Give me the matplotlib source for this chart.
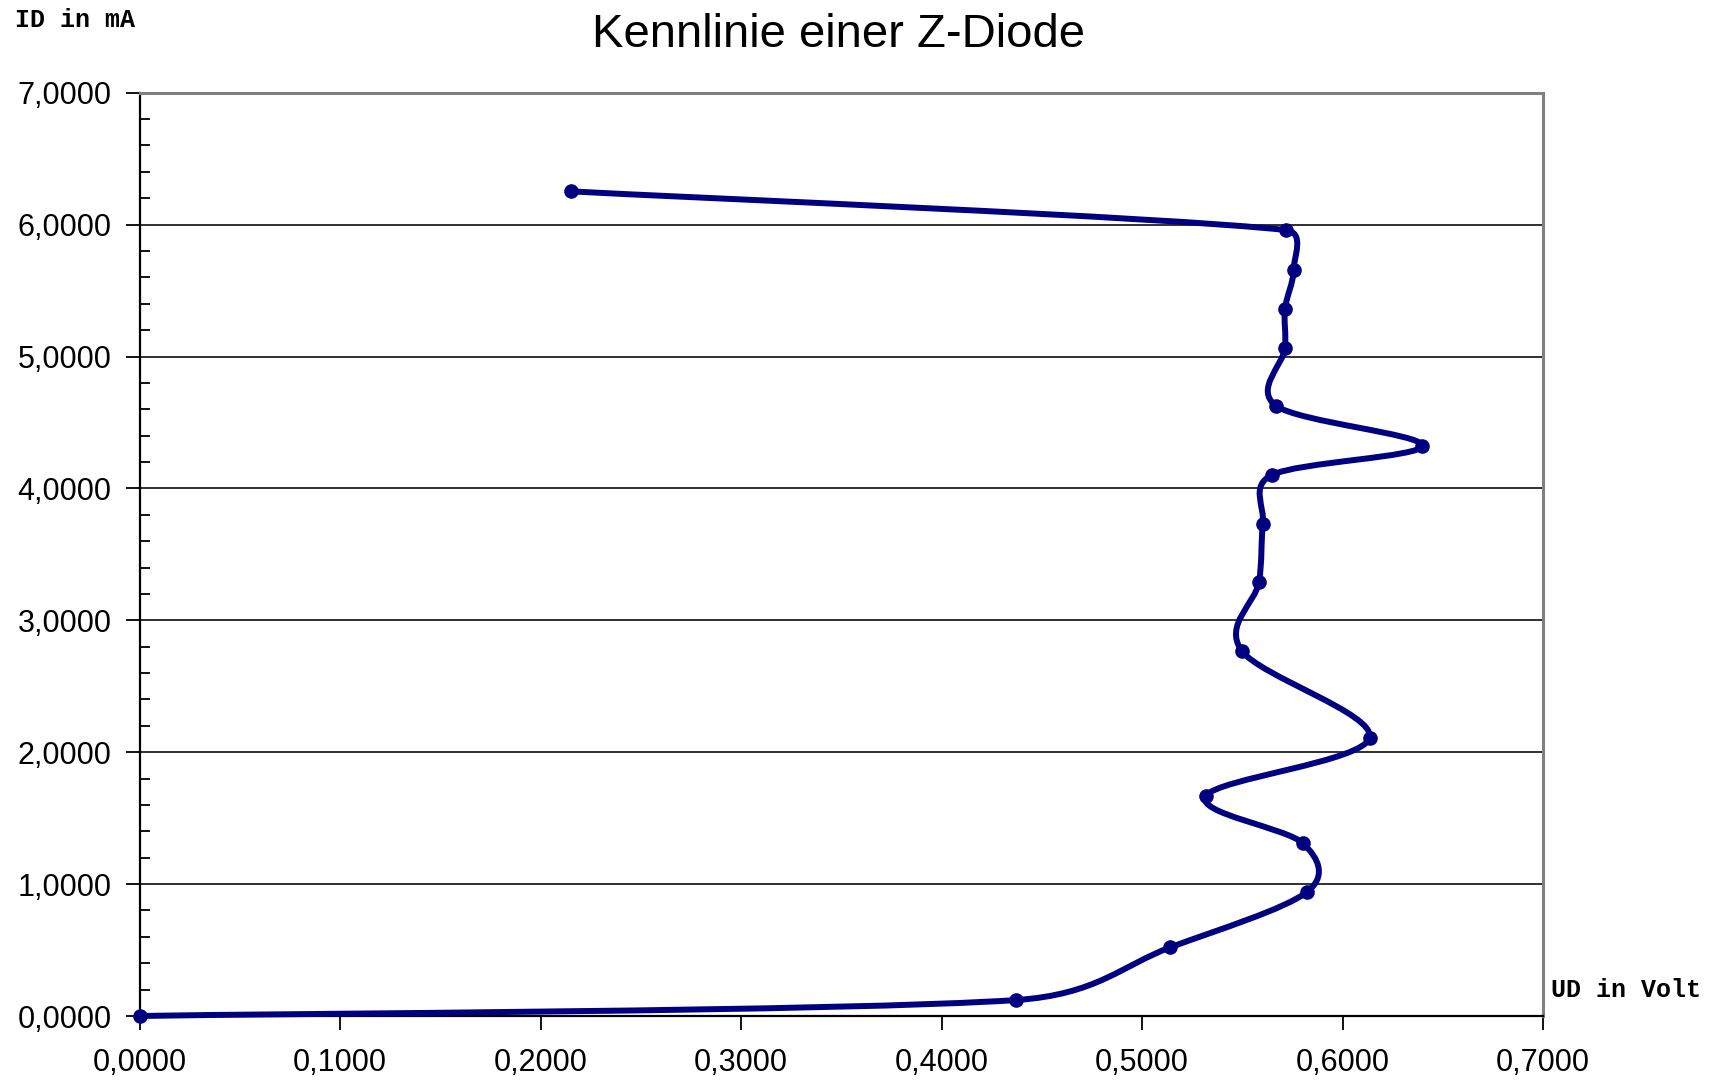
import numpy as np
import matplotlib
matplotlib.use("Agg")
import matplotlib.pyplot as plt
from matplotlib.path import Path
from matplotlib.patches import PathPatch
from matplotlib.ticker import FixedLocator, MultipleLocator, FixedFormatter

# Data (UD in Volt, ID in mA)
ud_volt = [0.0000, 0.4372, 0.5142, 0.5824, 0.5803, 0.5318, 0.6135, 0.5497,
           0.5583, 0.5603, 0.5648, 0.6398, 0.5670, 0.5713, 0.5713, 0.5756,
           0.5716, 0.2152]
id_ma = [0.0000, 0.121, 0.521, 0.942, 1.309, 1.668, 2.110, 2.770,
         3.288, 3.728, 4.102, 4.324, 4.625, 5.062, 5.360, 5.656,
         5.959, 6.252]

x_ticks = [0.0, 0.1, 0.2, 0.3, 0.4, 0.5, 0.6, 0.7]
y_ticks = [0.0, 1.0, 2.0, 3.0, 4.0, 5.0, 6.0, 7.0]
x_labels = ["0,0000", "0,1000", "0,2000", "0,3000", "0,4000", "0,5000", "0,6000", "0,7000"]
y_labels = ["0,0000", "1,0000", "2,0000", "3,0000", "4,0000", "5,0000", "6,0000", "7,0000"]

title = "Kennlinie einer Z-Diode"
ylabel = "ID in mA"
xlabel = "UD in Volt"

navy = "#000080"
W, H, DPI = 1725, 1082, 100
fig = plt.figure(figsize=(W / DPI, H / DPI), dpi=DPI)
plt.rcParams['font.family'] = ['Liberation Sans', 'DejaVu Sans']

ax = fig.add_axes([139.5 / W, 1 - 1016 / H, (1543 - 139.5) / W, (1016 - 92.7) / H])
ax.set_xlim(0, 0.7)
ax.set_ylim(0, 7)

# grid lines
for yv in y_ticks[1:-1]:
    ax.axhline(yv, color="#202020", lw=1.3, zorder=1)

for s in ["top", "right"]:
    ax.spines[s].set_color("#808080")
    ax.spines[s].set_linewidth(2.2)
for s in ["left", "bottom"]:
    ax.spines[s].set_color("black")
    ax.spines[s].set_linewidth(1.6)

ax.xaxis.set_major_locator(FixedLocator(x_ticks))
ax.xaxis.set_major_formatter(FixedFormatter(x_labels))
ax.yaxis.set_major_locator(FixedLocator(y_ticks))
ax.yaxis.set_major_formatter(FixedFormatter(y_labels))
ax.yaxis.set_minor_locator(MultipleLocator(0.2))
ax.tick_params(axis="both", which="major", direction="out", length=10, width=1.3,
               labelsize=22, color="black")
ax.tick_params(axis="y", which="major", pad=10)
ax.tick_params(axis="x", which="major", pad=13)
ax.tick_params(axis="y", which="minor", direction="in", length=7, width=1.3, color="black")

# smoothed line (spreadsheet-style Bezier smoothing in display space)
fig.canvas.draw()
pts = ax.transData.transform(np.column_stack([ud_volt, id_ma]))
n = len(pts)
offs = []
for i in range(n):
    a = pts[max(i - 1, 0)]
    b = pts[min(i + 1, n - 1)]
    offs.append((b - a) / 6.0)


def clamp(v, lim):
    m = np.linalg.norm(v)
    return v if m <= lim or m == 0 else v * (lim / m)


verts = [pts[0]]
codes = [Path.MOVETO]
for i in range(n - 1):
    p1, p2 = pts[i], pts[i + 1]
    L = np.linalg.norm(p2 - p1)
    c1 = p1 + clamp(offs[i], 0.5 * L)
    c2 = p2 - clamp(offs[i + 1], 0.5 * L)
    verts += [c1, c2, p2]
    codes += [Path.CURVE4] * 3
verts = ax.transData.inverted().transform(np.array(verts))
path = Path(verts, codes)
ax.add_patch(PathPatch(path, facecolor="none", edgecolor=navy, lw=4.3,
                       zorder=3, capstyle="round", joinstyle="round", clip_on=False))
ax.plot(ud_volt, id_ma, linestyle="none", marker="o", markersize=9.5,
        color=navy, zorder=4, clip_on=False)

fig.text(838 / W, 1 - 46.7 / H, title, ha="center", va="baseline", fontsize=34,
         family=['Liberation Sans', 'DejaVu Sans'])
fig.text(15 / W, 1 - 27 / H, ylabel, ha="left", va="baseline", fontsize=18,
         fontweight="bold", family=['Liberation Mono', 'DejaVu Sans Mono'])
fig.text(1551 / W, 1 - 997 / H, xlabel, ha="left", va="baseline", fontsize=18,
         fontweight="bold", family=['Liberation Mono', 'DejaVu Sans Mono'])

fig.savefig("out.png", dpi=DPI, facecolor="white")
